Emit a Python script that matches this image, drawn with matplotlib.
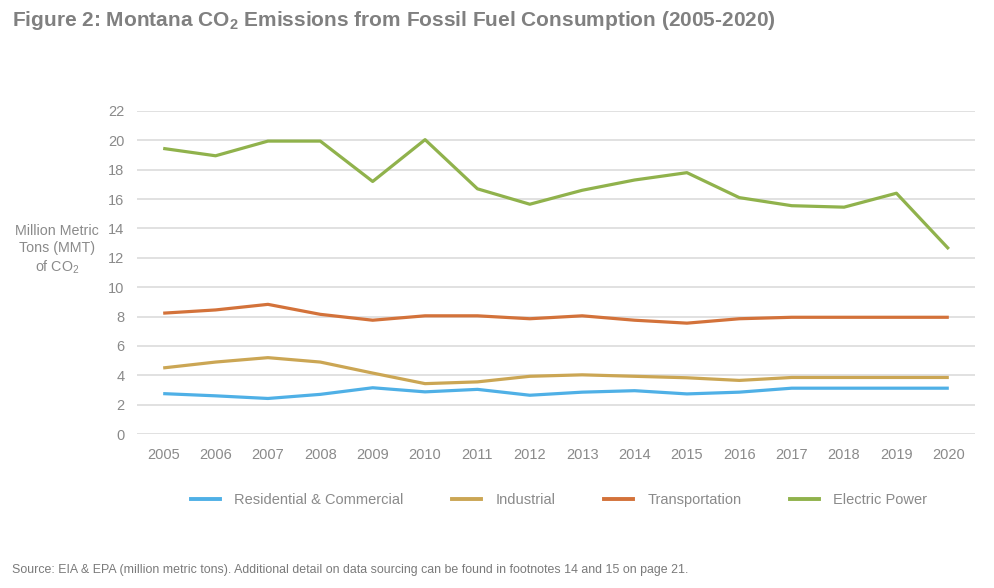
import matplotlib

matplotlib.use("Agg")
import matplotlib.pyplot as plt
from matplotlib.lines import Line2D

years = list(range(2005, 2021))
residential = [2.75, 2.6, 2.42, 2.7, 3.15, 2.87, 3.04, 2.64, 2.85, 2.95, 2.73, 2.85, 3.12, 3.12, 3.12, 3.12]
industrial = [4.5, 4.9, 5.2, 4.9, 4.15, 3.43, 3.55, 3.93, 4.03, 3.93, 3.83, 3.65, 3.85, 3.85, 3.85, 3.85]
transportation = [8.23, 8.45, 8.83, 8.15, 7.75, 8.05, 8.05, 7.85, 8.05, 7.75, 7.55, 7.85, 7.95, 7.95, 7.95, 7.95]
electric = [19.45, 18.95, 19.95, 19.95, 17.2, 20.05, 16.7, 15.65, 16.6, 17.3, 17.8, 16.1, 15.55, 15.45, 16.4, 12.6]

series_names = ["Residential & Commercial", "Industrial", "Transportation", "Electric Power"]
series_colors = ["#4fb0e6", "#cba654", "#d3723a", "#90b24c"]
y_ticks = list(range(0, 23, 2))

plt.rcParams["font.family"] = ["Liberation Sans", "DejaVu Sans"]
plt.rcParams["mathtext.fontset"] = "custom"
plt.rcParams["mathtext.rm"] = "Liberation Sans"

text_grey = "#8a8a8a"
fig = plt.figure(figsize=(9.95, 5.88), dpi=100)
ax = fig.add_axes([137 / 995, 1 - 434 / 588, (975 - 137) / 995, (434 - 111) / 588])

x = list(range(len(years)))
for values, name, color in zip([residential, industrial, transportation, electric], series_names, series_colors):
    ax.plot(x, values, color=color, linewidth=2.3, solid_capstyle="butt", label=name, zorder=3)

ax.set_xlim(-0.5, len(years) - 0.5)
ax.set_ylim(0, 22)
ax.set_yticks(y_ticks)
ax.set_xticks(x)
ax.set_xticklabels([str(y) for y in years])
ax.grid(axis="y", color="#d9d9d9", linewidth=1.1)
ax.set_axisbelow(True)
for side in ["top", "right", "left", "bottom"]:
    ax.spines[side].set_visible(False)
ax.tick_params(axis="both", length=0, labelsize=10.5, labelcolor=text_grey)
ax.tick_params(axis="y", pad=9)
ax.tick_params(axis="x", pad=10)

fig.text(57 / 995, 1 - 250 / 588, "Million Metric\nTons (MMT)\nof CO$_{\\mathregular{2}}$",
         ha="center", va="center", fontsize=10.3, color=text_grey, linespacing=1.25)

fig.text(12 / 995, 1 - 20 / 588,
         "Figure 2: Montana CO$_{\\mathregular{2}}$ Emissions from Fossil Fuel Consumption (2005-2020)",
         ha="left", va="center", fontsize=15, fontweight="bold", color="#808080",
         family=["Liberation Sans Narrow", "Liberation Sans"])

handles = [Line2D([], [], color=c, linewidth=2.8) for c in series_colors]
fig.legend(handles, series_names, loc="center", bbox_to_anchor=(559 / 995, 1 - 500 / 588), ncol=4,
           frameon=False, fontsize=10.5, labelcolor=text_grey, handlelength=2.0, handletextpad=1.0,
           columnspacing=3.3)

fig.text(12 / 995, 1 - 570 / 588,
         "Source: EIA & EPA (million metric tons). Additional detail on data sourcing can be found in footnotes 14 and 15 on page 21.",
         ha="left", va="center", fontsize=8.9, color="#7a7a7a",
         family=["Liberation Sans Narrow", "Liberation Sans"])

fig.savefig("out.png", dpi=100, facecolor="white")
